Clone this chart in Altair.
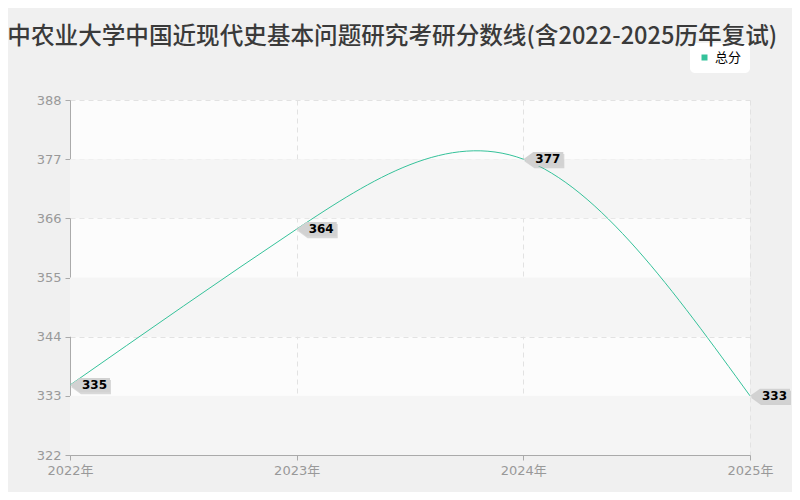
import altair as alt
import pandas as pd

title_text = "华中农业大学中国近现代史基本问题研究考研分数线(含2022-2025历年复试)"
series_name = "总分"
years = ["2022年", "2023年", "2024年", "2025年"]
scores = [335, 364, 377, 333]
y_ticks = [322, 333, 344, 355, 366, 377, 388]
band_lo = [322, 344, 366]
band_hi = [333, 355, 377]

line_color = "#35c29a"

df = pd.DataFrame({"year": years, "score": scores, "series": [series_name] * len(years)})
bands = pd.DataFrame({"lo": band_lo, "hi": band_hi})

W, H = 680, 355

x_enc = alt.X(
    "year:N", sort=years,
    scale=alt.Scale(type="point", padding=0),
    axis=alt.Axis(title=None, labelAngle=0, labelColor="#999999", labelFontSize=13,
                  labelFont="DejaVu Sans, Noto Sans CJK SC", domainColor="#aaaaaa",
                  tickColor="#aaaaaa", tickSize=5, grid=True, gridDash=[5, 4],
                  gridColor="#e2e2e2", labelPadding=4),
)
y_scale = alt.Scale(domain=[322, 388], nice=False, zero=False)
y_axis = alt.Axis(title=None, values=y_ticks, labelColor="#999999", labelFontSize=13,
                  labelFont="DejaVu Sans", domainColor="#aaaaaa", tickColor="#aaaaaa",
                  tickSize=5, grid=True, gridDash=[5, 4], gridColor="#e2e2e2",
                  labelPadding=4)

band_layer = alt.Chart(bands).mark_rect(fill="#f5f5f5").encode(
    x=alt.value(0), x2=alt.value(W),
    y=alt.Y("lo:Q", scale=y_scale, axis=y_axis), y2="hi:Q",
)

line = alt.Chart(df).mark_line(interpolate="natural", strokeWidth=1).encode(
    x=x_enc, y=alt.Y("score:Q", scale=y_scale, axis=y_axis),
    color=alt.Color("series:N", scale=alt.Scale(range=[line_color]),
                    legend=alt.Legend(title=None, orient="none", legendX=620, legendY=-57,
                                      fillColor="white", cornerRadius=5, padding=8,
                                      symbolType="square", symbolSize=36,
                                      symbolFillColor=line_color, symbolStrokeWidth=0,
                                      labelFontSize=13, labelColor="#000000",
                                      labelFont="Noto Sans CJK SC")),
)

tag_path = "M0,0 L0.5,-0.36 L2.0,-0.36 L2.0,0.36 L0.5,0.36 Z"
shadow = alt.Chart(df).mark_point(shape=tag_path, filled=True, size=1600, fill="#999999",
                                  opacity=0.35, strokeWidth=0, xOffset=1, yOffset=2).encode(
    x=alt.X("year:N", sort=years), y="score:Q")
tag = alt.Chart(df).mark_point(shape=tag_path, filled=True, size=1600, fill="#d2d2d2",
                               opacity=1, strokeWidth=0).encode(
    x=alt.X("year:N", sort=years), y="score:Q")
labels = alt.Chart(df).mark_text(align="left", baseline="middle", dx=12, dy=0,
                                 fontWeight="bold", fontSize=12, color="#000000",
                                 font="DejaVu Sans").encode(
    x=alt.X("year:N", sort=years), y="score:Q", text="score:Q")

chart = alt.layer(band_layer, line, shadow, tag, labels).properties(
    width=W, height=H,
    title=alt.TitleParams(title_text, anchor="middle", fontSize=23.6, fontWeight=500,
                          color="#3a3a3a", font="Noto Sans CJK SC", dx=-29.5, offset=-6),
    autosize=alt.AutoSizeParams(type="none"),
    padding={"left": 62, "top": 92, "right": 42, "bottom": 37},
    background="#f0f0f0",
).configure_view(stroke=None, fill="#fcfcfc")

chart.save("out.html", embed_options={"renderer": "svg", "actions": False})
